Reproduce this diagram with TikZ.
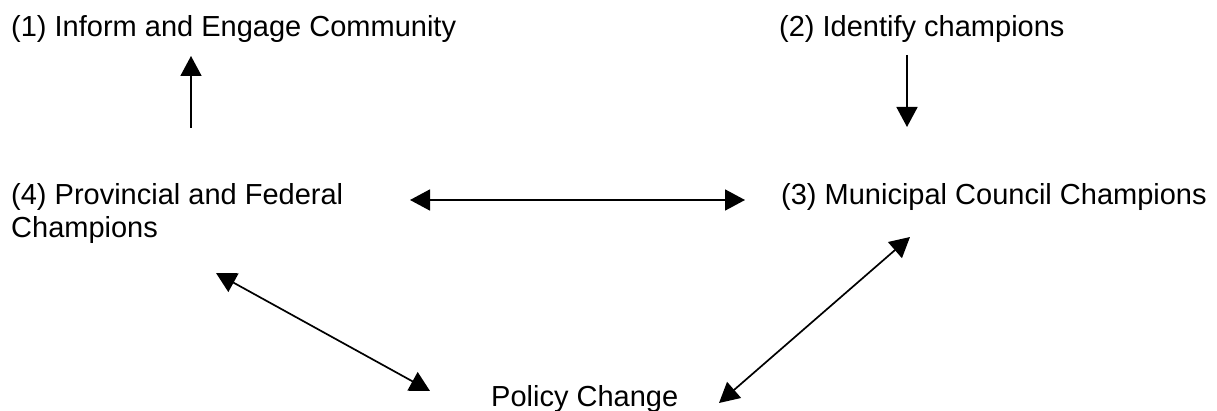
\documentclass[tikz,border=0pt]{standalone}
\usepackage{fontspec}
\setmainfont{Liberation Sans}
\usetikzlibrary{arrows.meta}

\begin{document}
\begin{tikzpicture}
    [x=1pt,y=-1pt,
     stage/.style={anchor=base west, inner sep=0pt, align=left, font=\fontsize{29}{33}\selectfont},
     oneway/.style={line width=1.7pt, -{Triangle[length=20pt,width=21pt]}},
     twoway/.style={line width=1.7pt, {Triangle[length=20pt,width=21pt]}-{Triangle[length=20pt,width=21pt]}}]
    \useasboundingbox (0,0) rectangle (1217,411);
    \node(inform)[stage] at (11,37) {(1) Inform and Engage Community};
    \node(identify)[stage] at (779,37) {(2) Identify champions};
    \node(municipal)[stage] at (781,205) {(3) Municipal Council Champions};
    \node(provincial)[stage] at (11,238) {(4) Provincial and Federal\\Champions};
    \node(policy)[stage] at (491,406) {Policy Change};
    % arrow ends
    \foreach \n/\x/\y in {upA/191/128,upB/191/56,downA/907/55,downB/907/127,
                          midA/410/200,midB/745/200,leftA/216/273,leftB/430/391,
                          rightA/910/237,rightB/719/403}{
        \coordinate(\n) at (\x,\y);
    }
    \draw[oneway] (upA) -- (upB);
    \draw[oneway] (downA) -- (downB);
    \draw[twoway] (midA) -- (midB);
    \draw[twoway] (leftA) -- (leftB);
    \draw[twoway] (rightA) -- (rightB);
\end{tikzpicture}
\end{document}
